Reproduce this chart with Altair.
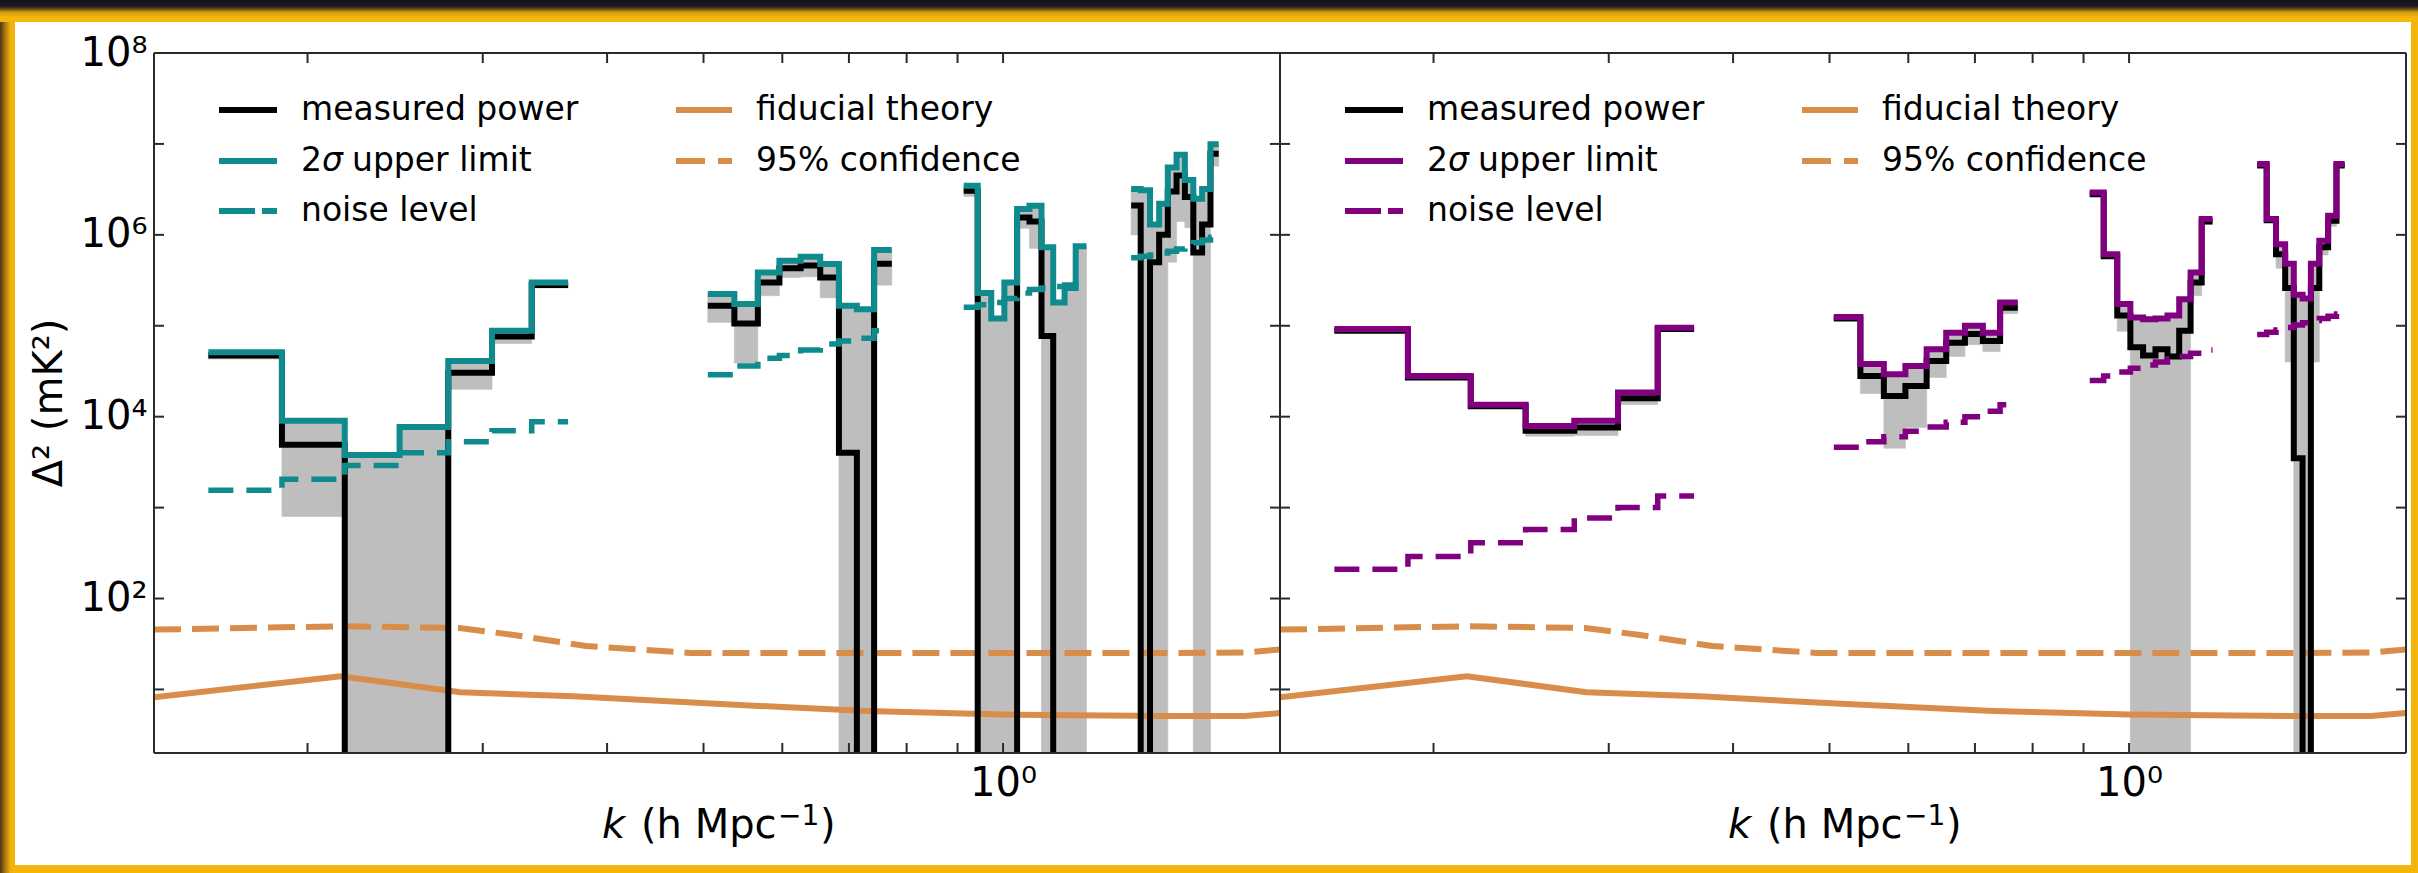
import altair as alt
import pandas as pd

# ---- k-bin edges (h Mpc^-1) of the four measured k-ranges ----------------
K_EDGES_A = [0.159, 0.1885, 0.218, 0.2475, 0.277, 0.3065, 0.336, 0.3655]
K_EDGES_B = [0.505, 0.537, 0.567, 0.596, 0.626, 0.655, 0.684, 0.713, 0.742, 0.773]
K_EDGES_C = [0.913, 0.943, 0.973, 1.003, 1.033, 1.063, 1.093, 1.123, 1.153, 1.183, 1.213]
K_EDGES_D = [1.345, 1.375, 1.405, 1.435, 1.464, 1.494, 1.523, 1.553, 1.585, 1.616, 1.647]

# ---- left panel: measured power, 2-sigma upper limit, noise level (mK^2) --
L_POWER_A = [4.7e4, 4.9e3, -1.5e3, -8.0e2, 3.05e4, 7.6e4, 2.8e5]
L_UPPER_A = [5.1e4, 9.0e3, 3.8e3, 7.7e3, 4.1e4, 8.8e4, 3.0e5]
L_NOISE_A = [1.55e3, 2.05e3, 2.9e3, 4.0e3, 5.3e3, 7.0e3, 8.8e3]

L_POWER_B = [1.66e5, 1.06e5, 3.0e5, 4.3e5, 4.6e5, 3.4e5, 4.0e3, -3.0e4, 4.8e5]
L_UPPER_B = [2.23e5, 1.73e5, 3.86e5, 5.2e5, 5.74e5, 4.77e5, 1.66e5, 1.52e5, 6.8e5]
L_NOISE_B = [2.9e4, 3.6e4, 4.4e4, 4.7e4, 5.4e4, 6.3e4, 6.8e4, 7.3e4, 8.8e4]

L_POWER_C = [3.06e6, -2.0e5, -1.0e5, -1.0e5, 1.55e6, 1.4e6, 7.7e4, -5.0e4, -5.0e4, -5.0e4]
L_UPPER_C = [3.47e6, 2.3e5, 1.2e5, 3.0e5, 1.92e6, 2.09e6, 7.3e5, 1.8e5, 2.6e5, 7.5e5]
L_NOISE_C = [1.6e5, 1.7e5, 1.8e5, 2.0e5, 2.3e5, 2.5e5, 2.6e5, 2.7e5, 2.8e5, 3.0e5]

L_POWER_D = [2.1e6, -5.0e5, 5.0e5, 1.0e6, 3.0e6, 4.5e6, 2.6e6, 6.4e5, 1.3e6, 7.8e6]
L_UPPER_D = [3.2e6, 3.1e6, 1.3e6, 2.2e6, 5.5e6, 7.6e6, 4.0e6, 2.5e6, 3.2e6, 9.9e6]
L_NOISE_D = [5.6e5, 5.8e5, 6.0e5, 6.3e5, 6.6e5, 7.0e5, 7.5e5, 8.2e5, 8.8e5, 9.4e5]

# ---- right panel ----------------------------------------------------------
R_POWER_A = [8.8e4, 2.7e4, 1.3e4, 7.0e3, 7.6e3, 1.6e4, 9.2e4]
R_UPPER_A = [9.2e4, 2.8e4, 1.35e4, 7.9e3, 9.0e3, 1.84e4, 9.5e4]
R_NOISE_A = [2.1e2, 2.9e2, 4.1e2, 5.75e2, 7.7e2, 1.0e3, 1.34e3]

R_POWER_B = [1.2e5, 2.8e4, 1.69e4, 2.18e4, 4.1e4, 6.5e4, 8.1e4, 6.8e4, 1.58e5]
R_UPPER_B = [1.25e5, 3.8e4, 2.93e4, 3.6e4, 5.5e4, 8.4e4, 1.0e5, 8.4e4, 1.8e5]
R_NOISE_B = [4.6e3, 5.3e3, 6.0e3, 6.9e3, 7.7e3, 8.7e3, 1.0e4, 1.15e4, 1.35e4]

R_POWER_C = [2.8e6, 5.8e5, 1.3e5, 5.8e4, 4.7e4, 5.5e4, 4.6e4, 8.8e4, 3.0e5, 1.4e6]
R_UPPER_C = [2.93e6, 6.1e5, 1.73e5, 1.23e5, 1.18e5, 1.2e5, 1.3e5, 1.96e5, 3.86e5, 1.49e6]
R_NOISE_C = [2.5e4, 2.8e4, 3.1e4, 3.4e4, 3.7e4, 4.0e4, 4.3e4, 4.6e4, 5.0e4, 5.4e4]

R_POWER_D = [5.8e6, 1.45e6, 6.1e5, 2.6e5, 3.5e3, -1.0e5, 2.6e5, 7.3e5, 1.43e6, 5.8e6]
R_UPPER_D = [6.0e6, 1.49e6, 7.9e5, 4.8e5, 2.2e5, 2.0e5, 4.8e5, 8.6e5, 1.62e6, 6.0e6]
R_NOISE_D = [8.0e4, 8.5e4, 9.0e4, 9.6e4, 1.02e5, 1.08e5, 1.14e5, 1.2e5, 1.27e5, 1.35e5]

# ---- fiducial 21cm theory and its 95% confidence level --------------------
THEORY_K = [0.1402, 0.216, 0.285, 0.37, 0.52, 0.73, 1.0, 1.45, 1.75, 1.898]
THEORY = [8.2, 14.0, 9.3, 8.4, 6.9, 5.8, 5.3, 5.1, 5.1, 5.5]
CONF_K = [0.1402, 0.216, 0.284, 0.321, 0.381, 0.485, 1.0, 1.5, 1.75, 1.898]
CONF = [45.5, 49.5, 47.5, 40.0, 30.0, 25.2, 25.2, 25.2, 25.5, 27.5]

# ---- axes -----------------------------------------------------------------
K_DOMAIN = [0.1402, 1.898]
P_DOMAIN = [2.0, 1e8]
X_TICKS = [0.2, 0.3, 0.4, 0.5, 0.6, 0.7, 0.8, 0.9, 1.0]
X_LABELS = [1.0]
Y_TICKS = [1e1, 1e2, 1e3, 1e4, 1e5, 1e6, 1e7, 1e8]
Y_LABELS = [1e2, 1e4, 1e6, 1e8]

TEAL = "#0f8b8d"
PURPLE = "#800080"
ORANGE = "#d98d4a"
GRAY = "#bebebe"
GOLD = "#f4b60a"
SPINE = "#2b2b2b"
FONT = "DejaVu Sans"

W, H = 1126, 700            # plot area of one panel
LEFT_PAD, TOP_PAD = 154, 53
CANVAS_W, CANVAS_H = 2418, 873
FLOOR = 0.05                # stand-in for non-positive values on the log axis
LINE_W = 6

XS = alt.Scale(type="log", domain=K_DOMAIN, nice=False, zero=False)
YS = alt.Scale(type="log", domain=P_DOMAIN, nice=False, zero=False)

SUPER = ("'10' + substring('⁰¹²³⁴⁵⁶⁷⁸⁹', round(log(datum.value) / LN10), "
         "round(log(datum.value) / LN10) + 1)")

X_AXIS = alt.Axis(values=X_LABELS, labelExpr=SUPER, ticks=False, domain=False, grid=False,
                  labelFont=FONT, labelFontSize=40, labelColor="black", labelPadding=10,
                  title=None, zindex=1)
Y_AXIS = alt.Axis(values=Y_LABELS, labelExpr=SUPER, ticks=False, domain=False, grid=False,
                  labelFont=FONT, labelFontSize=40, labelColor="black", labelPadding=7,
                  title=None, zindex=1)

ONE = pd.DataFrame({"n": [0]})


def step_rows(edges, vals, group):
    rows = [{"k": e, "v": v, "g": group} for e, v in zip(edges[:-1], vals)]
    rows.append({"k": edges[-1], "v": vals[-1], "g": group})
    return rows


def px_rect(x0, x1, y0, y1, fill):
    return alt.Chart(ONE).mark_rect(fill=fill, strokeWidth=0).encode(
        x=alt.value(x0), x2=alt.value(x1), y=alt.value(y0), y2=alt.value(y1))


def px_rule(x0, x1, y0, y1, color, width, dash=None):
    kw = {"color": color, "strokeWidth": width, "strokeCap": "butt"}
    if dash:
        kw["strokeDash"] = dash
    return alt.Chart(ONE).mark_rule(**kw).encode(
        x=alt.value(x0), x2=alt.value(x1), y=alt.value(y0), y2=alt.value(y1))


def px_text(x, y, s, size, italic=False, align="left", baseline="middle", angle=0):
    kw = {"text": s, "font": FONT, "fontSize": size, "color": "black",
          "align": align, "baseline": baseline}
    if italic:
        kw["fontStyle"] = "italic"
    if angle:
        kw["angle"] = angle
    return alt.Chart(ONE).mark_text(**kw).encode(x=alt.value(x), y=alt.value(y))


def band_gradient(vertical):
    stops = [("#15131d", 0.0), ("#1b1820", 0.28), ("#6e5312", 0.42),
             ("#d49e10", 0.56), (GOLD, 0.78), (GOLD, 1.0)] if vertical else \
            [("#4a3410", 0.0), ("#a87812", 0.35), ("#f0b20b", 0.7), (GOLD, 1.0)]
    return alt.LinearGradient(
        gradient="linear",
        stops=[alt.GradientStop(color=c, offset=o) for c, o in stops],
        x1=0, y1=0, x2=0 if vertical else 1, y2=1 if vertical else 0)


def frame_layers(is_left):
    top, bottom = -TOP_PAD, CANVAS_H - TOP_PAD
    if is_left:
        x0, x1, wx0, wx1 = -LEFT_PAD, W, 15 - LEFT_PAD, W
    else:
        x0, x1 = 0, CANVAS_W - LEFT_PAD - W
        wx0, wx1 = 0, x1 - 7
    layers = [
        px_rect(x0, x1, top, bottom, GOLD),
        px_rect(wx0, wx1, 22 - TOP_PAD, 865 - TOP_PAD, "white"),
        px_rect(x0, x1, top, 22 - TOP_PAD, band_gradient(True)),
    ]
    if is_left:
        layers.append(px_rect(x0, 15 - LEFT_PAD, 22 - TOP_PAD, bottom, band_gradient(False)))
    return layers


def legend_layers(color):
    r1, r2, r3 = 57, 108, 158
    return [
        px_rule(65, 123, r1, r1, "black", LINE_W),
        px_rule(65, 123, r2, r2, color, LINE_W),
        px_rule(65, 123, r3, r3, color, LINE_W, [36, 7]),
        px_rule(522, 578, r1, r1, ORANGE, LINE_W),
        px_rule(522, 578, r2, r2, ORANGE, LINE_W, [29, 13]),
        px_text(147, r1, "measured power", 33),
        px_text(147, r2, "2", 33),
        px_text(168, r2, "σ", 33, italic=True),
        px_text(198, r2, "upper limit", 33),
        px_text(147, r3, "noise level", 33),
        px_text(602, r1, "fiducial theory", 33),
        px_text(602, r2, "95% confidence", 33),
    ]


def xtitle_layers():
    # italic k, the unit, and a raised -1 exponent
    base = 785
    return [
        px_text(448, base, "k", 40, italic=True, baseline="alphabetic"),
        px_text(487, base, "(h Mpc", 40, baseline="alphabetic"),
        px_text(624, base - 13, "−1", 28, baseline="alphabetic"),
        px_text(666, base, ")", 40, baseline="alphabetic"),
    ]


def panel(powers, uppers, noises, color, is_left):
    edges_all = [K_EDGES_A, K_EDGES_B, K_EDGES_C, K_EDGES_D]
    black, upper, noise, boxes = [], [], [], []
    for g, (edges, p, u, n) in enumerate(zip(edges_all, powers, uppers, noises)):
        black += step_rows(edges, [v if v > 0 else FLOOR for v in p], g)
        upper += step_rows(edges, u, g)
        noise += step_rows(edges, n, g)
        for i in range(len(p)):
            lo = 2 * p[i] - u[i]          # measured power minus 2 sigma
            boxes.append({"k0": edges[i], "k1": edges[i + 1],
                          "lo": lo if lo > 0 else FLOOR, "hi": u[i]})

    y_axis = Y_AXIS if is_left else None

    def X(field):
        return alt.X(f"{field}:Q", scale=XS, axis=X_AXIS)

    def Y(field):
        return alt.Y(f"{field}:Q", scale=YS, axis=y_axis)

    def steps(rows, col, width, dash=None):
        kw = {"color": col, "strokeWidth": width, "interpolate": "step-after",
              "clip": True, "strokeJoin": "miter", "strokeCap": "butt"}
        if dash:
            kw["strokeDash"] = dash
        return alt.Chart(pd.DataFrame(rows)).mark_line(**kw).encode(
            x=X("k"), y=Y("v"), detail="g:N")

    theory = pd.DataFrame({"k": THEORY_K, "v": THEORY})
    conf = pd.DataFrame({"k": CONF_K, "v": CONF})
    xt = pd.DataFrame({"t": X_TICKS})
    yt = pd.DataFrame({"t": Y_TICKS})

    layers = frame_layers(is_left)
    layers += [
        alt.Chart(pd.DataFrame(boxes)).mark_rect(color=GRAY, clip=True, stroke=GRAY,
                                                 strokeWidth=0.6).encode(
            x=X("k0"), x2="k1", y=Y("lo"), y2="hi"),
        alt.Chart(theory).mark_line(color=ORANGE, strokeWidth=6, clip=True).encode(
            x=X("k"), y=Y("v")),
        alt.Chart(conf).mark_line(color=ORANGE, strokeWidth=6, clip=True,
                                  strokeDash=[27, 11]).encode(x=X("k"), y=Y("v")),
        steps(black, "black", LINE_W),
        steps(upper, color, LINE_W),
        steps(noise, color, 5.5, [25, 13]),
        # frame of the plot area
        px_rule(0, W, 0, 0, SPINE, 2),
        px_rule(0, W, H, H, SPINE, 2),
        px_rule(0, 0, 0, H, SPINE, 2),
        px_rule(W, W, 0, H, SPINE, 2),
        # inward ticks on all four sides
        alt.Chart(xt).mark_rule(color=SPINE, strokeWidth=2).encode(
            x=X("t"), y=alt.value(H), y2=alt.value(H - 10)),
        alt.Chart(xt).mark_rule(color=SPINE, strokeWidth=2).encode(
            x=X("t"), y=alt.value(0), y2=alt.value(10)),
        alt.Chart(yt).mark_rule(color=SPINE, strokeWidth=2).encode(
            y=Y("t"), x=alt.value(0), x2=alt.value(10)),
        alt.Chart(yt).mark_rule(color=SPINE, strokeWidth=2).encode(
            y=Y("t"), x=alt.value(W - 10), x2=alt.value(W)),
    ]
    layers += legend_layers(color)
    layers += xtitle_layers()
    if is_left:
        layers.append(px_text(-104, H / 2, "Δ² (mK²)", 40, align="center", angle=270))
    return alt.layer(*layers).properties(width=W, height=H)


left = panel([L_POWER_A, L_POWER_B, L_POWER_C, L_POWER_D],
             [L_UPPER_A, L_UPPER_B, L_UPPER_C, L_UPPER_D],
             [L_NOISE_A, L_NOISE_B, L_NOISE_C, L_NOISE_D], TEAL, True)
right = panel([R_POWER_A, R_POWER_B, R_POWER_C, R_POWER_D],
              [R_UPPER_A, R_UPPER_B, R_UPPER_C, R_UPPER_D],
              [R_NOISE_A, R_NOISE_B, R_NOISE_C, R_NOISE_D], PURPLE, False)

chart = alt.hconcat(left, right, spacing=0, bounds="flush").properties(
    padding=0, background=GOLD).configure_view(strokeWidth=0)

chart.save("out.html", embed_options={"renderer": "svg", "actions": False})
